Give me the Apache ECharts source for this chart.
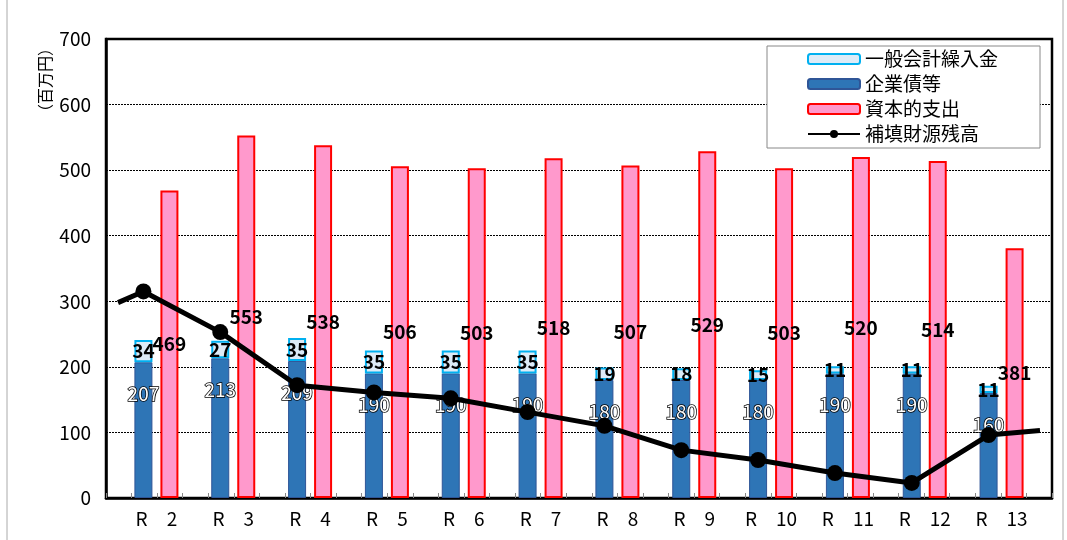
<!DOCTYPE html>
<html>
<head>
<meta charset="utf-8">
<script src="https://cdn.jsdelivr.net/npm/echarts@6/dist/echarts.min.js"></script>
<style>
html, body { margin: 0; padding: 0; background: #fff; }
#chart { width: 1067px; height: 540px; }
</style>
</head>
<body>
<div id="chart"></div>
<script>
// 年度
const categories = ['R　2', 'R　3', 'R　4', 'R　5', 'R　6', 'R　7', 'R　8', 'R　9', 'R　10', 'R　11', 'R　12', 'R　13'];
// 企業債等
const kigyosai = [207, 213, 209, 190, 190, 190, 180, 180, 180, 190, 190, 160];
// 一般会計繰入金
const ippan = [34, 27, 35, 35, 35, 35, 19, 18, 15, 11, 11, 11];
// 資本的支出
const shihon = [469, 553, 538, 506, 503, 518, 507, 529, 503, 520, 514, 381];
// 補填財源残高（前後の端点つき）
const hoten = [315, 253, 172, 161, 152, 131, 110, 73, 58, 38, 23, 96];
const hotenStart = 298;
const hotenEnd = 103;
// y軸
const yMin = 0, yMax = 700, yStep = 100;

const font = "'Noto Sans CJK JP', sans-serif";
const barW = 18, barGapPx = 8;
const bandPx = (1067 - 118 - 27) / categories.length;
// 棒の中心（企業債等）に折れ線の点を合わせる
const markOffset = 0.5 - (barW + barGapPx) / 2 / bandPx;

const lineData = [[0, hotenStart]];
hoten.forEach((v, i) => lineData.push([i + markOffset, v]));
lineData.push([categories.length, hotenEnd]);

const chart = echarts.init(document.getElementById('chart'));
const option = {
  animation: false,
  textStyle: { fontFamily: font },
  graphic: [
    { type: 'rect', shape: { x: 7, y: -5, width: 1056, height: 550 }, style: { fill: 'none', stroke: '#aaa', lineWidth: 1 }, silent: true },
    { type: 'text', x: 45, y: 80, rotation: Math.PI / 2,
      style: { text: '（百万円）', font: '16px ' + font, fill: '#000', align: 'center', verticalAlign: 'middle' } }
  ],
  legend: {
    orient: 'vertical',
    left: 767, top: 46,
    padding: [3, 42, 4, 40],
    itemWidth: 52, itemHeight: 10, itemGap: 5,
    backgroundColor: '#fff',
    borderColor: '#888', borderWidth: 1,
    textStyle: { fontSize: 19, lineHeight: 20, color: '#000', fontFamily: font },
    data: ['一般会計繰入金', '企業債等', '資本的支出', '補填財源残高']
  },
  grid: [
    { left: 106, right: 15, top: 39, bottom: 42, show: true, borderColor: '#000', borderWidth: 2.5, backgroundColor: 'transparent' },
    { left: 118, right: 27, top: 39, bottom: 42 }
  ],
  xAxis: [
    { type: 'value', gridIndex: 0, min: 0, max: 37, interval: 1,
      axisLine: { show: true, onZero: false, lineStyle: { color: '#000', width: 2.5 } },
      axisTick: { show: true, inside: true, length: 5, lineStyle: { color: '#888' } },
      axisLabel: { show: false }, splitLine: { show: false } },
    { type: 'category', gridIndex: 1, data: categories,
      axisLine: { show: false }, axisTick: { show: false },
      axisLabel: { fontSize: 19, color: '#000', margin: 11, fontFamily: font } },
    { type: 'value', gridIndex: 1, min: 0, max: categories.length, show: false }
  ],
  yAxis: [
    { type: 'value', gridIndex: 0, min: yMin, max: yMax, interval: yStep,
      axisLine: { show: true, lineStyle: { color: '#000', width: 2.5 } },
      axisTick: { show: false },
      axisLabel: { fontSize: 19, color: '#000', margin: 15, fontFamily: font },
      splitLine: { lineStyle: { color: '#000', type: [2, 1], width: 1 } } },
    { type: 'value', gridIndex: 1, min: yMin, max: yMax, interval: yStep, show: false }
  ],
  series: [
    {
      name: '企業債等', type: 'bar', stack: 'kyokyu', xAxisIndex: 1, yAxisIndex: 1,
      barWidth: barW, barGap: (barGapPx / barW * 100) + '%',
      data: kigyosai,
      itemStyle: { color: '#2E75B6', borderColor: '#2F5597', borderWidth: 1 },
      label: { show: true, position: 'insideTop', distance: 22, fontSize: 19, color: '#fff',
        textBorderColor: '#000', textBorderWidth: 1.5, fontFamily: font }
    },
    {
      name: '一般会計繰入金', type: 'bar', stack: 'kyokyu', xAxisIndex: 1, yAxisIndex: 1,
      barWidth: barW, barGap: (barGapPx / barW * 100) + '%',
      data: ippan,
      itemStyle: { color: '#DDEBF7', borderColor: '#00B0F0', borderWidth: 2 },
      label: { show: true, position: 'inside', fontSize: 19, fontWeight: 'bold', color: '#000', fontFamily: font }
    },
    {
      name: '資本的支出', type: 'bar', xAxisIndex: 1, yAxisIndex: 1,
      barWidth: barW, barGap: (barGapPx / barW * 100) + '%',
      data: shihon,
      itemStyle: { color: '#FF99CC', borderColor: '#FF0000', borderWidth: 2 },
      label: { show: true, position: 'inside', fontSize: 19, fontWeight: 'bold', color: '#000', fontFamily: font }
    },
    {
      name: '補填財源残高', type: 'line', xAxisIndex: 2, yAxisIndex: 1,
      data: lineData,
      z: 5,
      lineStyle: { color: '#000', width: 5 },
      itemStyle: { color: '#000' },
      symbol: 'circle',
      symbolSize: (v, p) => (p.dataIndex === 0 || p.dataIndex === lineData.length - 1) ? 0 : 16,
      showAllSymbol: true
    }
  ]
};
chart.setOption(option);
</script>
</body>
</html>
